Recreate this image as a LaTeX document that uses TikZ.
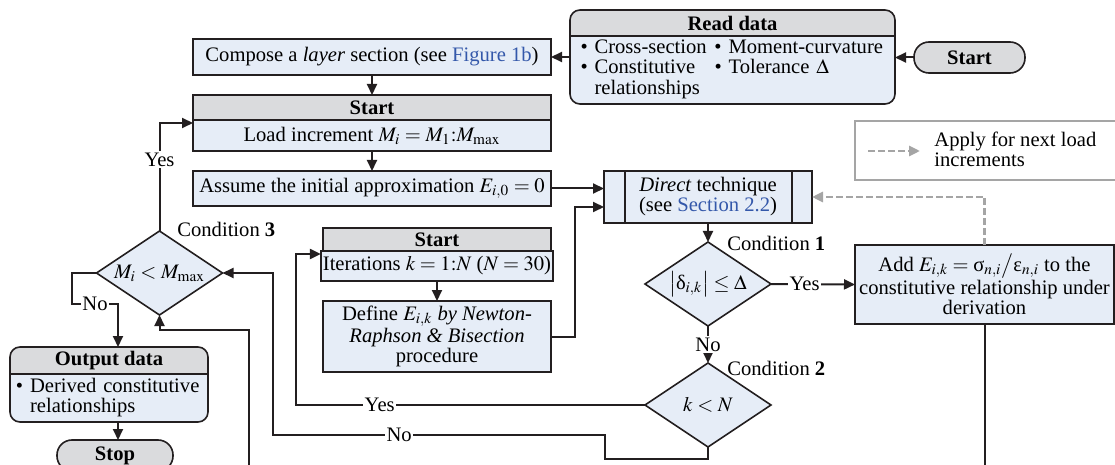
\documentclass[tikz,border=0pt]{standalone}
\usepackage{amsmath}
\usepackage{mathptmx}
\usepackage[no-math]{fontspec}
\setmainfont{Liberation Serif}
\usetikzlibrary{positioning,calc,shapes.geometric,arrows.meta,backgrounds}

\definecolor{boxblue}{RGB}{230,237,247}
\definecolor{headgray}{RGB}{218,219,221}
\definecolor{lineblack}{RGB}{35,31,32}
\definecolor{linkblue}{RGB}{52,88,170}
\definecolor{dashgray}{RGB}{165,165,165}

\newcommand{\figfont}{\fontsize{10.3}{10}\selectfont}

\tikzset{
  box/.style={draw=lineblack, fill=boxblue, line width=0.8pt, inner sep=1pt, outer sep=0pt, align=center, font=\figfont},
  head/.style={box, fill=headgray, font=\figfont\bfseries},
  cond/.style={box, diamond, aspect=1.5, minimum width=63pt, minimum height=42pt, inner sep=0pt},
  arr/.style={draw=lineblack, line width=1pt, -{Triangle[length=5.5pt,width=5pt]}},
  conn/.style={draw=lineblack, line width=1pt},
  gdash/.style={draw=dashgray, line width=1.4pt, dash pattern=on 3.5pt off 1.5pt, -{Triangle[length=5.5pt,width=5pt]}},
  lbl/.style={fill=white, inner sep=0.8pt, font=\figfont},
  note/.style={font=\figfont, inner sep=0pt, anchor=west},
}

\begin{document}
\begin{tikzpicture}[x=0.5pt, y=-0.5pt]
    \useasboundingbox (0,0) rectangle (1115,465);

    % Input side
    \node[head, rounded corners=7.5pt, minimum width=55.5pt, minimum height=15.5pt] (start) at (969.5,57.5) {Start};
    \node[head, draw=none, fill=none, minimum width=162.5pt, minimum height=13pt] (readh) at (732.5,23) {Read data};
    \node[box, draw=none, fill=none, minimum width=162.5pt, minimum height=34pt, text width=152pt, align=left, below=0pt of readh] (read) {%
        \begin{tabular}{@{}p{67pt}@{}l@{}}
        • Cross-section & • Moment-curvature\\
        • Constitutive & • Tolerance $\Delta$\\
        \phantom{• }relationships &
        \end{tabular}};
    \node[box, minimum width=179pt, minimum height=18pt] (compose) at (372,57) {Compose a \textit{layer} section (see \textcolor{linkblue}{Figure 1b})};

    % Load loop
    \node[head, minimum width=179pt, minimum height=12.5pt] (loadh) at (372,107.5) {Start};
    \node[box, minimum width=179pt, minimum height=15.5pt, below=0pt of loadh] (load) {Load increment $M_i = M_1{:}M_{\max}$};
    \node[box, minimum width=179pt, minimum height=17.5pt] (assume) at (372,188.5) {Assume the initial approximation $E_{i,0} = 0$};
    \node[box, minimum width=104pt, minimum height=26pt] (direct) at (708,197) {\textit{Direct} technique\\(see \textcolor{linkblue}{Section 2.2})};
    \foreach \side/\dx in {west/10.5pt, east/-10pt} {
        \draw[lineblack, line width=0.8pt] ([xshift=\dx]direct.north \side) -- ([xshift=\dx]direct.south \side);
    }

    % Iteration loop
    \node[head, minimum width=114pt, minimum height=11.5pt] (iterh) at (437,239.5) {Start};
    \node[box, minimum width=114pt, minimum height=15pt, below=0pt of iterh] (iter) {Iterations $k = 1{:}N$ ($N = 30$)};
    \node[box, minimum width=114pt, minimum height=35.5pt] (define) at (437,336.5) {Define $E_{i,k}$ \textit{by Newton-}\\\textit{Raphson \& Bisection}\\procedure};

    % Conditions
    \node[cond] (cond1) at (708,284) {$\big|\text{δ}_{i,k}\big| \le \Delta$};
    \node[cond] (cond2) at (708,405) {$k < N$};
    \node[cond] (cond3) at (159.5,273) {$M_i < M_{\max}$};
    \node[note] (c1lbl) at (727,243) {Condition \textbf{1}};
    \node[note] (c2lbl) at (727,368) {Condition \textbf{2}};
    \node[note] (c3lbl) at (177,229) {Condition \textbf{3}};
    \node[box, minimum width=129.5pt, minimum height=39.5pt, inner sep=0.5pt] (add) at (984.5,284.5) {Add $E_{i,k} = \text{σ}_{n,i}\big/\text{ε}_{n,i}$ to the\\constitutive relationship under\\derivation};

    % Output side
    \node[head, draw=none, fill=none, minimum width=99pt, minimum height=13.5pt] (outh) at (109,360.5) {Output data};
    \node[box, draw=none, fill=none, minimum width=99pt, minimum height=24pt, text width=93pt, align=left, below=0pt of outh] (out) {• Derived constitutive\\\phantom{• }relationships};
    \node[head, rounded corners=7.5pt, minimum width=58pt, minimum height=15.5pt] (stop) at (115,455.5) {Stop};

    % Rounded boxes with a header
    \begin{scope}[on background layer]
    \foreach \h/\b in {readh/read, outh/out} {
        \begin{scope}
            \clip[rounded corners=5pt] (\h.north west) rectangle (\b.south east);
            \fill[headgray] (\h.north west) rectangle (\h.south east);
            \fill[boxblue] (\b.north west) rectangle (\b.south east);
        \end{scope}
    }
    \end{scope}
    \foreach \h/\b in {readh/read, outh/out} {
        \draw[lineblack, line width=0.8pt, rounded corners=5pt] (\h.north west) rectangle (\b.south east);
        \draw[lineblack, line width=0.8pt] (\h.south west) -- (\h.south east);
    }

    % Legend
    \node[draw=dashgray, line width=0.7pt, minimum width=132pt, minimum height=29.5pt, outer sep=0pt] (legend) at (987,150.5) {};
    \coordinate (lega) at (868,151);
    \coordinate (legb) at (920,151);
    \draw[gdash] (lega) -- (legb);
    \node[note, align=left] (legtxt) at (934,149) {Apply for next load\\increments};

    % Bend points
    \coordinate (loadin) at ([yshift=-1.5pt]load.north west);
    \coordinate (iterin) at ([yshift=-1.5pt]iter.north west);
    \coordinate (dirin) at ([yshift=-5pt]direct.west);
    \coordinate (nob1) at (605,459);
    \coordinate (nob2) at (273,435);
    \coordinate (nol) at (72,304);
    \coordinate (nor) at (118,304);
    \coordinate (backin) at (249,470);

    % Connectors
    \draw[arr] (start.west) -- (start.west -| read.east);
    \draw[arr] (compose.east -| read.west) -- (compose.east);
    \draw[arr] (compose.south) -- (loadh.north);
    \draw[arr] (load.south) -- (assume.north);
    \draw[arr] (assume.east) -- (assume.east -| direct.west);
    \draw[arr] (direct.south) -- (cond1.north);
    \draw[arr] (cond1.east) -- node[lbl, pos=0.4] {Yes} (add.west);
    \draw[arr] (cond1.south) -- node[lbl] {No} (cond2.north);
    \draw[arr] (iter.south) -- (define.north);
    \draw[arr] (define.east) -| ($(dirin)+(-29,0)$) -- (dirin);
    \draw[arr] (cond2.west) -| node[lbl, pos=0.38] {Yes} ($(iterin)+(-25,0)$) -- (iterin);
    \draw[arr] (cond2.south) |- (nob1) |- node[lbl, pos=0.81] {No} (nob2) |- (cond3.east);
    \draw[arr] (cond3.north) |- node[lbl, pos=0.33] {Yes} (loadin);
    \draw[arr] (cond3.west) -| (nol) -- node[lbl] {No} (nor) -- (nor |- outh.north);
    \draw[arr] (out.south -| nor) -- (stop.north -| nor);
    \draw[arr] (backin) |- ($(cond3.south)+(0,15)$) -- (cond3.south);
    \draw[conn] (add.south) -- (add.south |- backin);
    \draw[gdash] (add.north) |- (direct.east);
\end{tikzpicture}
\end{document}
